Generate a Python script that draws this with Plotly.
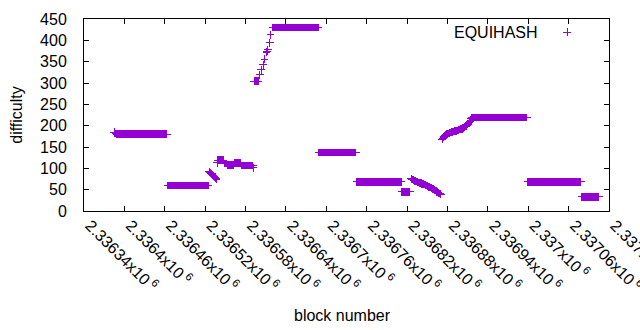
import numpy as np
import plotly.graph_objects as go

# ---- data ----
# flat runs of constant difficulty: first block, last block, difficulty
run_first = [2336389, 2336464, 2336539, 2336548, 2336553, 2336563, 2336574,
             2336593, 2336620, 2336689, 2336745, 2336812, 2336916, 2336999, 2337079]
run_last = [2336463, 2336525, 2336547, 2336552, 2336562, 2336573, 2336591,
            2336599, 2336688, 2336744, 2336811, 2336824, 2336998, 2337078, 2337105]
run_value = [180, 60, 119, 111, 108, 113, 107,
             304, 430, 137, 68, 45, 219, 68, 33]

# single blocks
single_blocks = [2336385, 2336386, 2336387, 2336388, 2336538, 2336592,
                 2336601, 2336603, 2336606, 2336608, 2336611, 2336612,
                 2336613, 2336616, 2336617]
single_values = [185, 183, 182, 181, 113, 101,
                 319, 331, 343, 356, 372, 375,
                 378, 394, 413]

# block-by-block stretches: first block and consecutive difficulties
drop1_first = 2336526
drop1_values = [92, 91, 89, 88, 86, 85, 83, 82, 80, 79, 77, 75]

drop2_first = 2336826
drop2_values = [76, 75, 74, 73, 72, 71, 70, 69, 69, 68, 67, 67, 66, 66, 65,
                65, 64, 64, 63, 63, 62, 61, 61, 60, 59, 58, 57, 56, 56, 55,
                54, 53, 52, 51, 50, 49, 48, 47, 45, 44, 43, 42, 41, 40, 39]

rise_first = 2336872
rise_values = [168, 171, 173, 175, 177, 178, 179, 180, 181, 182, 182, 183,
               184, 184, 185, 185, 186, 186, 187, 187, 188, 188, 189, 189,
               190, 190, 191, 191, 192, 192, 193, 194, 195, 196, 197, 198,
               199, 201, 203, 205, 207, 210, 213, 216]

tick_vals = [2336340, 2336400, 2336460, 2336520, 2336580, 2336640, 2336700,
             2336760, 2336820, 2336880, 2336940, 2337000, 2337060, 2337120]
tick_text = ["2.33634", "2.3364", "2.33646", "2.33652", "2.33658", "2.33664",
             "2.3367", "2.33676", "2.33682", "2.33688", "2.33694", "2.337",
             "2.33706", "2.33712"]

series_name = "EQUIHASH"

# ---- assemble per-block points ----
xs, ys = [], []
for a, b, v in zip(run_first, run_last, run_value):
    blocks = list(range(a, b + 1))
    xs += blocks
    ys += [v] * len(blocks)
xs += single_blocks
ys += single_values
for first, vals in [(drop1_first, drop1_values), (drop2_first, drop2_values),
                    (rise_first, rise_values)]:
    xs += [first + i for i in range(len(vals))]
    ys += vals
order = np.argsort(xs)
xs = np.array(xs)[order]
ys = np.array(ys)[order]

COLOR = "#9400D3"
FONT = "Liberation Sans"
marker = dict(symbol="cross-thin", size=5.5, color=COLOR,
              line=dict(color=COLOR, width=1))

fig = go.Figure()
fig.add_trace(go.Scatter(x=xs, y=ys, mode="markers", marker=marker,
                         name=series_name, showlegend=False,
                         hoverinfo="skip"))
# legend key sample on an invisible overlay axis in paper-like units
fig.add_trace(go.Scatter(x=[0.92], y=[0.932], mode="markers", marker=marker,
                         xaxis="x2", yaxis="y2", showlegend=False,
                         hoverinfo="skip"))

axis_common = dict(showline=True, linecolor="black", linewidth=1,
                   mirror="ticks", ticks="inside", ticklen=5,
                   tickcolor="black", showgrid=False, zeroline=False,
                   automargin=False,
                   tickfont=dict(family=FONT, size=16, color="black"))

fig.update_layout(
    template="none",
    width=640, height=330,
    margin=dict(l=84, r=31, t=19, b=119, autoexpand=False),
    paper_bgcolor="white", plot_bgcolor="white",
    showlegend=False,
    xaxis=dict(range=[tick_vals[0], tick_vals[-1]], tickvals=tick_vals,
               ticktext=[t + "x10<sup> 6</sup>" for t in tick_text],
               tickangle=45, ticklabelshift=6, ticklabelstandoff=-2,
               ticklabeloverflow="allow",
               **axis_common),
    yaxis=dict(range=[0, 450], dtick=50, tick0=0, ticklabelstandoff=13,
               **axis_common),
    xaxis2=dict(range=[0, 1], overlaying="x", visible=False),
    yaxis2=dict(range=[0, 1], overlaying="y", visible=False),
    annotations=[
        dict(text=series_name, xref="paper", yref="paper", x=0.868, y=0.932,
             xanchor="right", yanchor="middle", showarrow=False,
             font=dict(family=FONT, size=16, color="black")),
        dict(text="block number", xref="paper", yref="paper", x=0.493,
             y=-0.542, xanchor="center", yanchor="middle", showarrow=False,
             font=dict(family=FONT, size=16, color="black")),
        dict(text="difficulty", xref="paper", yref="paper", x=-0.13, y=0.5,
             xanchor="center", yanchor="middle", showarrow=False, textangle=-90,
             font=dict(family=FONT, size=16, color="black")),
    ],
)

crisp = ("var s=document.createElement('style');"
         "s.textContent='.scatterlayer .point{shape-rendering:crispEdges}';"
         "document.head.appendChild(s);")
fig.write_html("out.html", post_script=crisp)
